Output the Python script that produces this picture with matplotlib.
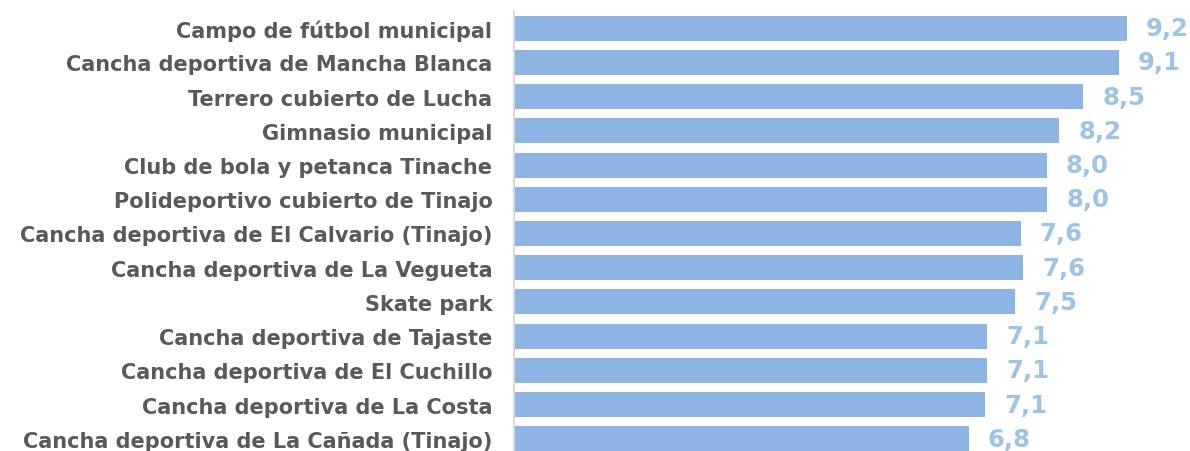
import matplotlib.pyplot as plt

categorias = [
    "Campo de fútbol municipal",
    "Cancha deportiva de Mancha Blanca",
    "Terrero cubierto de Lucha",
    "Gimnasio municipal",
    "Club de bola y petanca Tinache",
    "Polideportivo cubierto de Tinajo",
    "Cancha deportiva de El Calvario (Tinajo)",
    "Cancha deportiva de La Vegueta",
    "Skate park",
    "Cancha deportiva de Tajaste",
    "Cancha deportiva de El Cuchillo",
    "Cancha deportiva de La Costa",
    "Cancha deportiva de La Cañada (Tinajo)",
]
valores = [9.20, 9.07, 8.54, 8.18, 7.99, 8.00, 7.60, 7.64, 7.52, 7.10, 7.10, 7.07, 6.82]

plt.rcParams['font.family'] = ['DejaVu Sans']

fig = plt.figure(figsize=(11.9, 4.52), dpi=100)
# eje recortado por abajo como en la imagen original
ax = fig.add_axes([514 / 1190, -5 / 452, 680 / 1190, 445 / 452])

y = range(len(categorias))
ax.barh(y, valores, height=0.73, color='#8EB4E3')

for i, v in enumerate(valores):
    ax.text(v + 0.28, i, f"{v:.1f}".replace('.', ','), va='center', ha='left',
            fontsize=17.5, fontweight='bold', color='#9DC3E6')

ax.set_yticks(list(y))
ax.set_yticklabels(categorias, fontsize=15, fontweight='bold', color='#595959')
ax.tick_params(axis='y', length=0, pad=15.5)
ax.set_xticks([])
ax.set_ylim(12.5, -0.5)
ax.set_xlim(0, 10.2)

for s in ['top', 'right', 'bottom']:
    ax.spines[s].set_visible(False)
ax.spines['left'].set_color('#D9D9D9')
ax.spines['left'].set_linewidth(1.5)

fig.savefig('out.png', dpi=100)
